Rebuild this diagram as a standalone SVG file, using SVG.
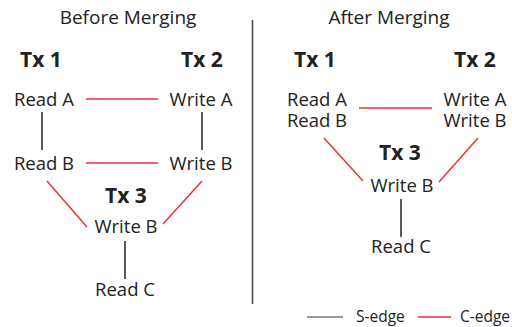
<svg xmlns="http://www.w3.org/2000/svg" width="512" height="327" viewBox="0 0 512 327">
<style>
text{font-family:"Open Sans","Noto Sans",sans-serif;fill:#222;text-anchor:middle}
.t{font-size:18.5px}
.h{font-size:19px}
.b{font-size:21px;font-weight:bold}
.s{stroke:#222;stroke-width:1.5;fill:none}
.c{stroke:#e8333a;stroke-width:1.5;fill:none}
.lg{font-size:15.5px;text-anchor:start}
</style>
<rect width="512" height="327" fill="#fff"/>
<text class="h" x="128" y="24">Before Merging</text>
<text class="h" x="389" y="24">After Merging</text>
<line x1="252.5" y1="20" x2="252.5" y2="304" stroke="#444" stroke-width="1.5"/>
<g id="connectors">
<line class="c" x1="86" y1="99" x2="158" y2="99"/>
<line class="s" x1="42" y1="112" x2="42" y2="150"/>
<line class="s" x1="202" y1="112" x2="202" y2="150"/>
<line class="c" x1="86" y1="163" x2="158" y2="163"/>
<line class="c" x1="47" y1="181" x2="87" y2="227"/>
<line class="c" x1="202" y1="181" x2="163" y2="224"/>
<line class="s" x1="125" y1="241" x2="125" y2="279"/>
<line class="c" x1="359" y1="108" x2="432" y2="108"/>
<line class="c" x1="324" y1="138" x2="363" y2="181"/>
<line class="c" x1="478" y1="138" x2="439" y2="182"/>
<line class="s" x1="401" y1="199" x2="401" y2="237"/>
</g>
<g id="b-tx1"><text class="b" x="41" y="67">Tx 1</text></g>
<g id="b-tx2"><text class="b" x="202" y="67">Tx 2</text></g>
<g id="b-tx3"><text class="b" x="126" y="203">Tx 3</text></g>
<g id="b-readA"><text class="t" x="44" y="106">Read A</text></g>
<g id="b-writeA"><text class="t" x="201" y="106">Write A</text></g>
<g id="b-readB"><text class="t" x="44" y="170">Read B</text></g>
<g id="b-writeB"><text class="t" x="201" y="170">Write B</text></g>
<g id="b-writeB3"><text class="t" x="126" y="233">Write B</text></g>
<g id="b-readC"><text class="t" x="125" y="296">Read C</text></g>
<g id="a-tx1"><text class="b" x="315" y="67">Tx 1</text></g>
<g id="a-tx2"><text class="b" x="475" y="67">Tx 2</text></g>
<g id="a-tx3"><text class="b" x="400" y="160">Tx 3</text></g>
<g id="a-tx1ops"><text class="t" x="317" y="106">Read A<tspan x="317" dy="21">Read B</tspan></text></g>
<g id="a-tx2ops"><text class="t" x="475" y="106">Write A<tspan x="475" dy="21">Write B</tspan></text></g>
<g id="a-writeB"><text class="t" x="402" y="192">Write B</text></g>
<g id="a-readC"><text class="t" x="401" y="253">Read C</text></g>
<g id="legend">
<line x1="307" y1="317" x2="343" y2="317" stroke="#777" stroke-width="1.5"/>
<text class="lg" x="356" y="322">S-edge</text>
<line x1="418" y1="317" x2="451" y2="317" stroke="#e8333a" stroke-width="1.5"/>
<text class="lg" x="460" y="322">C-edge</text>
</g>
</svg>
